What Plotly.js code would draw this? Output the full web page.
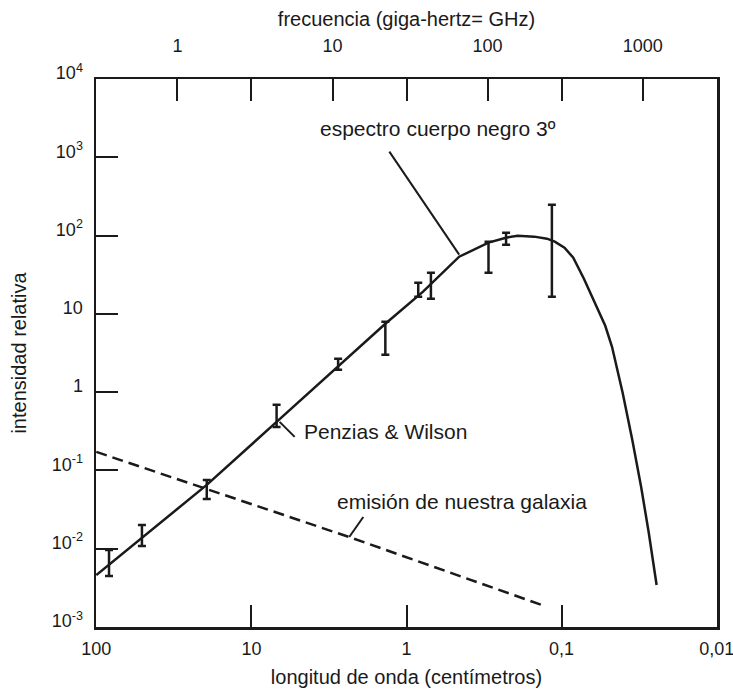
<!DOCTYPE html>
<html>
<head>
<meta charset="utf-8">
<script src="https://cdn.plot.ly/plotly-3.0.1.min.js"></script>
<style>html,body{margin:0;padding:0;background:#fff;}#chart{width:733px;height:691px;}</style>
</head>
<body>
<div id="chart"></div>
<script>
// wavelength (cm) and relative intensity of the 3 K blackbody curve
const curveLambda = [100, 50.8, 19.4, 6.88, 2.76, 1.369, 0.782, 0.4575, 0.2962, 0.2284, 0.192, 0.150, 0.1242, 0.1107, 0.0958, 0.0841, 0.0718, 0.0604, 0.0523, 0.0473, 0.0404, 0.0350, 0.0307, 0.0274, 0.0244];
const curveI = [0.00461, 0.0137, 0.0653, 0.417, 2.17, 7.47, 19.2, 53.7, 81.2, 94.0, 99.7, 96.9, 91.3, 83.6, 70.0, 52.2, 28.1, 13.5, 7.04, 3.80, 0.98, 0.245, 0.0615, 0.0159, 0.00344];

// galaxy emission (dashed)
const galaxyLambda = [100, 2.34, 0.128];
const galaxyI = [0.1725, 0.0141, 0.00185];

// measurements: wavelength, lower and upper limits
const errLambda = [82.8, 50.8, 19.4, 6.88, 2.76, 1.369, 0.840, 0.696, 0.296, 0.228, 0.1155];
const errLow = [0.00448, 0.0108, 0.0432, 0.360, 1.93, 3.00, 16.6, 15.6, 33.6, 76.5, 16.6];
const errHigh = [0.0096, 0.0201, 0.0756, 0.689, 2.67, 7.93, 25.0, 33.6, 83.6, 109, 248];

// leader lines of the labels
const leaderBBLambda = [1.29, 0.4575];
const leaderBBI = [1183, 57];
const leaderPWLambda = [6.58, 5.26];
const leaderPWI = [0.417, 0.268];
const leaderGalLambda = [2.34, 1.90];
const leaderGalI = [0.0141, 0.0254];

// tick labels
const xTickVals = [100, 10, 1, 0.1, 0.01];
const xTickText = ['100', '10', '1', '0,1', '0,01'];
const freqTickVals = [1, 3, 10, 30, 100, 300, 1000];
const freqTickText = ['1', '', '10', '', '100', '', '1000'];
const yTickVals = [1e-3, 1e-2, 1e-1, 1, 10, 100, 1e3, 1e4];
const yTickText = ['10<sup>-3</sup>', '10<sup>-2</sup>', '10<sup>-1</sup>', '1', '10', '10<sup>2</sup>', '10<sup>3</sup>', '10<sup>4</sup>'];

// label texts and anchor positions (log10 of data)
const labelTexts = ['espectro cuerpo negro 3º', 'Penzias & Wilson', 'emisión de nuestra galaxia'];
const labelLogLambda = [0.571, 0.675, 0.461];
const labelLogI = [3.367, -0.508, -1.403];

const FONT = 'Liberation Sans, Arial, Helvetica, sans-serif';
const INK = '#1a1a1a';

const lambdaMin = 0.01, lambdaMax = 100;
// frequency in GHz = 30 / wavelength in cm
const toGHz = l => 30 / l;
const pad = 0.002;
const xRange = [Math.log10(lambdaMax) + pad, Math.log10(lambdaMin) - pad];
const freqRange = [Math.log10(toGHz(lambdaMax)) - pad, Math.log10(toGHz(lambdaMin)) + pad];

const traces = [
  {x: curveLambda, y: curveI, mode: 'lines', line: {color: INK, width: 2.5}, hoverinfo: 'skip'},
  {x: galaxyLambda, y: galaxyI, mode: 'lines', line: {color: INK, width: 2.5, dash: '11px,6px'}, hoverinfo: 'skip'},
  {x: errLambda, y: errLow, mode: 'markers', marker: {size: 1, color: 'rgba(0,0,0,0)'},
   error_y: {type: 'data', symmetric: false, array: errHigh.map((h, i) => h - errLow[i]), arrayminus: errLow.map(() => 0),
             color: INK, thickness: 2.5, width: 4}, hoverinfo: 'skip'},
  {x: leaderBBLambda, y: leaderBBI, mode: 'lines', line: {color: INK, width: 2}, hoverinfo: 'skip'},
  {x: leaderPWLambda, y: leaderPWI, mode: 'lines', line: {color: INK, width: 2}, hoverinfo: 'skip'},
  {x: leaderGalLambda, y: leaderGalI, mode: 'lines', line: {color: INK, width: 2}, hoverinfo: 'skip'},
  // the same curve on the frequency axis (invisible) so the top axis is drawn
  {x: curveLambda.map(toGHz), y: curveI, xaxis: 'x2', mode: 'lines', line: {color: 'rgba(0,0,0,0)', width: 0}, hoverinfo: 'skip'}
];

const annotations = labelTexts.map((t, i) => ({
  text: t, x: labelLogLambda[i], y: labelLogI[i], xref: 'x', yref: 'y',
  xanchor: 'left', yanchor: 'middle', showarrow: false,
  font: {family: FONT, size: 21, color: INK}
}));

const layout = {
  width: 733, height: 691,
  margin: {l: 96, r: 16, t: 79, b: 64},
  paper_bgcolor: '#fff', plot_bgcolor: '#fff',
  showlegend: false,
  font: {family: FONT, color: INK},
  xaxis: {
    type: 'log', range: xRange,
    tickmode: 'array', tickvals: xTickVals, ticktext: xTickText,
    ticks: 'inside', ticklen: 22, tickwidth: 2, tickcolor: INK,
    showline: true, linewidth: 2.5, linecolor: INK, mirror: true,
    showgrid: false, zeroline: false,
    tickfont: {family: FONT, size: 18, color: INK},
    ticklabelstandoff: 4, ticklabeloverflow: 'allow',
    title: {text: 'longitud de onda (centímetros)', font: {family: FONT, size: 20, color: INK}, standoff: 12}
  },
  xaxis2: {
    type: 'log', overlaying: 'x', side: 'top', anchor: 'y', range: freqRange,
    tickmode: 'array', tickvals: freqTickVals, ticktext: freqTickText,
    ticks: 'inside', ticklen: 22, tickwidth: 2, tickcolor: INK,
    showline: false, showgrid: false, zeroline: false,
    tickfont: {family: FONT, size: 18, color: INK},
    ticklabelstandoff: 22, ticklabeloverflow: 'allow',
    title: {text: 'frecuencia (giga-hertz= GHz)', font: {family: FONT, size: 20, color: INK}, standoff: 4}
  },
  yaxis: {
    type: 'log', range: [-3, 4],
    tickmode: 'array', tickvals: yTickVals, ticktext: yTickText,
    ticks: 'inside', ticklen: 22, tickwidth: 2, tickcolor: INK,
    showline: true, linewidth: 2.5, linecolor: INK, mirror: true,
    showgrid: false, zeroline: false,
    tickfont: {family: FONT, size: 18, color: INK},
    ticklabelstandoff: 7, ticklabelshift: -6, ticklabeloverflow: 'allow',
    title: {text: 'intensidad relativa', font: {family: FONT, size: 20, color: INK}, standoff: 20}
  },
  annotations: annotations
};

Plotly.newPlot('chart', traces, layout, {staticPlot: true, displayModeBar: false});
</script>
</body>
</html>
